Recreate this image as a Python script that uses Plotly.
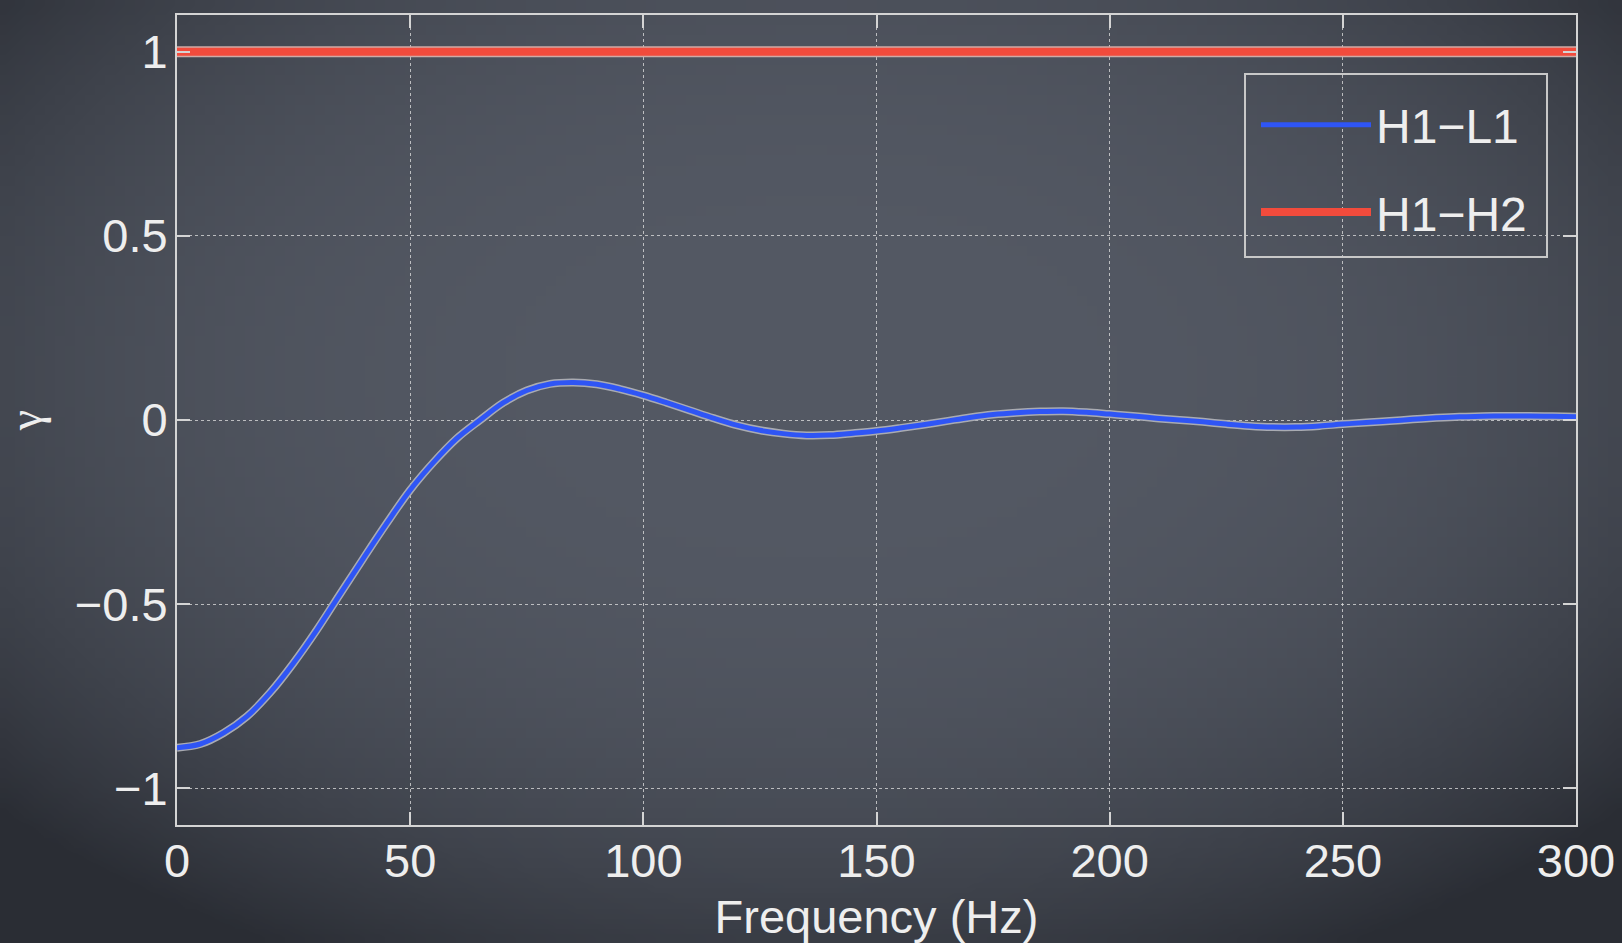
import base64
import struct
import zlib

import plotly.graph_objects as go

# ---- data ----
freq = [0, 5, 10, 15, 20, 25, 30, 35, 40, 45, 50, 55, 60, 65, 70, 75, 80, 85, 90, 95,
        100, 105, 110, 115, 120, 125, 130, 135, 140, 145, 150, 155, 160, 165, 170, 175,
        180, 185, 190, 195, 200, 205, 210, 215, 220, 225, 230, 235, 240, 245, 250, 255,
        260, 265, 270, 275, 280, 285, 290, 295, 300]
h1l1 = [-0.890, -0.880, -0.850, -0.805, -0.740, -0.660, -0.570, -0.472, -0.375, -0.280,
        -0.190, -0.115, -0.050, 0.000, 0.047, 0.080, 0.098, 0.102, 0.097, 0.084,
        0.067, 0.047, 0.026, 0.005, -0.014, -0.028, -0.037, -0.042, -0.041, -0.036,
        -0.030, -0.022, -0.013, -0.003, 0.007, 0.015, 0.020, 0.023, 0.024, 0.021,
        0.016, 0.011, 0.005, 0.000, -0.005, -0.011, -0.016, -0.019, -0.019, -0.016,
        -0.011, -0.007, -0.003, 0.002, 0.006, 0.009, 0.010, 0.011, 0.011, 0.010, 0.009]
h1h2_freq = [0, 300]
h1h2 = [1.0, 1.0]

x_ticks = [0, 50, 100, 150, 200, 250, 300]
y_ticks = [-1, -0.5, 0, 0.5, 1]

FONT = "Liberation Sans, Arial, Helvetica, sans-serif"
TXT = "#eeeeee"
AX = "#d4d4d4"
BLUE = "#2f55f5"
RED = "#f24b3c"
HALO = "#a9abb2"

W, H = 1622, 943
ML, MR, MT, MB = 177, 46, 15, 118
PW, PH = W - ML - MR, H - MT - MB


# ---- smooth slate-board background (vignette) as an inline PNG ----
def board_png(w=162, h=94):
    rows = []
    for j in range(h):
        row = bytearray([0])
        v = j / (h - 1)
        for i in range(w):
            u = i / (w - 1)
            dx = (u - 0.5) / 0.68
            dy = (v - 0.40) / 0.70
            r2 = min(1.0, dx * dx + dy * dy)
            t = r2 ** 1.5
            c0 = (84, 89, 100)
            c1 = (42, 45, 52)
            row += bytes(int(c0[k] + (c1[k] - c0[k]) * t) for k in range(3))
        rows.append(bytes(row))
    raw = b"".join(rows)

    def chunk(tag, data):
        return (struct.pack(">I", len(data)) + tag + data +
                struct.pack(">I", zlib.crc32(tag + data) & 0xFFFFFFFF))

    png = b"\x89PNG\r\n\x1a\n"
    png += chunk(b"IHDR", struct.pack(">IIBBBBB", w, h, 8, 2, 0, 0, 0))
    png += chunk(b"IDAT", zlib.compress(raw, 9))
    png += chunk(b"IEND", b"")
    return "data:image/png;base64," + base64.b64encode(png).decode()


fig = go.Figure()

# halos (light outline under each curve)
fig.add_trace(go.Scatter(x=h1h2_freq, y=h1h2, mode="lines",
                         line=dict(color="#cfaaa6", width=11),
                         showlegend=False, hoverinfo="skip"))
fig.add_trace(go.Scatter(x=freq, y=h1l1, mode="lines",
                         line=dict(color=HALO, width=8, shape="spline"),
                         showlegend=False, hoverinfo="skip"))

fig.add_trace(go.Scatter(x=freq, y=h1l1, mode="lines", name="H1−L1",
                         legendgroup="a", legendrank=1,
                         line=dict(color=BLUE, width=5, shape="spline")))
fig.add_trace(go.Scatter(x=h1h2_freq, y=h1h2, mode="lines", name="H1−H2",
                         legendgroup="b", legendrank=2,
                         line=dict(color=RED, width=8)))

axis_common = dict(
    showline=True, linecolor=AX, linewidth=2, mirror="ticks",
    ticks="inside", ticklen=13, tickwidth=1.5, tickcolor=AX,
    showgrid=True, gridcolor="rgba(225,225,225,0.75)", gridwidth=1.3, griddash="dot",
    zeroline=False,
    tickfont=dict(family=FONT, size=47, color=TXT),
)

fig.update_xaxes(range=[0, 300], tickvals=x_ticks, ticklabelstandoff=-6,
                 title=dict(text="Frequency (Hz)", standoff=22,
                            font=dict(family=FONT, size=47, color=TXT)),
                 **axis_common)
fig.update_yaxes(range=[-1.1, 1.1], tickvals=y_ticks, ticklabelstandoff=-2,
                 title=dict(text="γ", standoff=26,
                            font=dict(family="Liberation Serif, DejaVu Serif, serif",
                                      size=46, color=TXT)),
                 **axis_common)

# legend frame (pixel box converted to paper coordinates)
box_l, box_r, box_t, box_b = 1245, 1547, 74, 257
fig.add_shape(type="rect", xref="paper", yref="paper",
              x0=(box_l - ML) / PW, x1=(box_r - ML) / PW,
              y0=(H - MB - box_b) / PH, y1=(H - MB - box_t) / PH,
              line=dict(color="#c8c8c8", width=2), fillcolor="rgba(0,0,0,0)", layer="above")

fig.add_layout_image(source=board_png(), xref="paper", yref="paper",
                     x=-ML / PW, y=1 + MT / PH, sizex=W / PW, sizey=H / PH,
                     xanchor="left", yanchor="top", sizing="stretch", layer="below")

fig.update_layout(
    width=W, height=H,
    margin=dict(l=ML, r=MR, t=MT, b=MB, autoexpand=False),
    paper_bgcolor="#42464f",
    plot_bgcolor="rgba(0,0,0,0)",
    font=dict(family=FONT, color=TXT),
    legend=dict(x=(1256 - ML) / PW, y=(H - MB - 87) / PH, xanchor="left", yanchor="top",
                bgcolor="rgba(0,0,0,0)", borderwidth=0,
                font=dict(family=FONT, size=48, color=TXT),
                tracegroupgap=22, itemwidth=110, traceorder="grouped"),
)

fig.write_html("out.html", config={"displayModeBar": False},
               post_script="document.body.style.margin='0px';")
